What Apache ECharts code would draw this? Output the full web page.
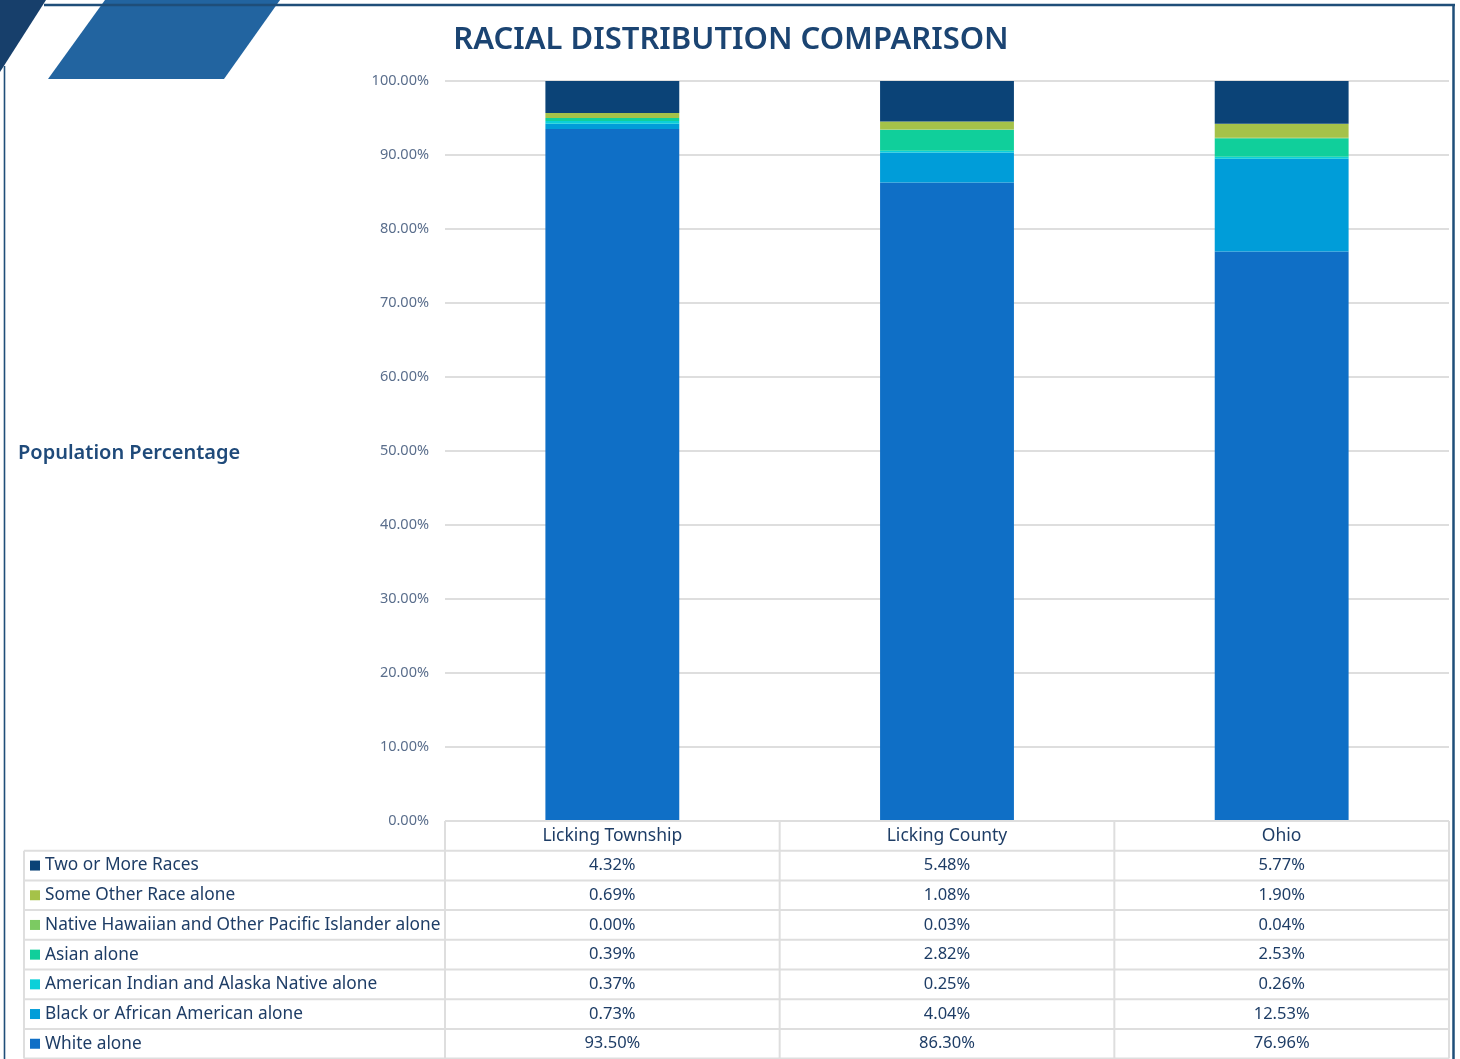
<!DOCTYPE html>
<html><head><meta charset="utf-8">
<script src="https://cdn.jsdelivr.net/npm/echarts@6/dist/echarts.min.js"></script>
<style>html,body{margin:0;padding:0;background:#fff}#c{width:1460px;height:1059px}</style>
</head><body><div id="c"></div>
<script>
const categories = ['Licking Township', 'Licking County', 'Ohio'];
const titleText = 'RACIAL DISTRIBUTION COMPARISON';
const yAxisTitle = 'Population Percentage';
const yTicks = [0, 10, 20, 30, 40, 50, 60, 70, 80, 90, 100];

const whiteAlone = [93.50, 86.30, 76.96];
const blackAlone = [0.73, 4.04, 12.53];
const americanIndianAlone = [0.37, 0.25, 0.26];
const asianAlone = [0.39, 2.82, 2.53];
const nativeHawaiianAlone = [0.00, 0.03, 0.04];
const someOtherRaceAlone = [0.69, 1.08, 1.90];
const twoOrMoreRaces = [4.32, 5.48, 5.77];

// stack order: bottom -> top
const seriesDefs = [
  { name: 'White alone', data: whiteAlone, color: '#0F6FC6' },
  { name: 'Black or African American alone', data: blackAlone, color: '#009DD9' },
  { name: 'American Indian and Alaska Native alone', data: americanIndianAlone, color: '#0BD0D9' },
  { name: 'Asian alone', data: asianAlone, color: '#10CF9B' },
  { name: 'Native Hawaiian and Other Pacific Islander alone', data: nativeHawaiianAlone, color: '#7CCA62' },
  { name: 'Some Other Race alone', data: someOtherRaceAlone, color: '#A5C249' },
  { name: 'Two or More Races', data: twoOrMoreRaces, color: '#0B4377' }
];

const FONT = '"Noto Sans", "Open Sans", sans-serif';
const TEXT = '#1E3D66';
const GRIDC = '#DEDEDE';

const chart = echarts.init(document.getElementById('c'), null, { renderer: 'canvas' });

chart.setOption({
  animation: false,
  backgroundColor: '#fff',
  grid: { left: 445, right: 11, top: 81, bottom: 238, containLabel: false },
  xAxis: {
    type: 'category', data: categories,
    axisLine: { show: false }, axisTick: { show: false }, axisLabel: { show: false },
    splitLine: { show: false }
  },
  yAxis: {
    type: 'value', min: yTicks[0], max: yTicks[yTicks.length - 1], interval: yTicks[1] - yTicks[0],
    axisLine: { show: false }, axisTick: { show: false },
    axisLabel: { formatter: v => v.toFixed(2) + '%', color: '#5A6E8C', fontSize: 14.5, fontFamily: FONT, margin: 16 },
    splitLine: { lineStyle: { color: GRIDC, width: 2 } }
  },
  series: seriesDefs.map(s => ({
    name: s.name, type: 'bar', stack: 'total', data: s.data, barWidth: '40%',
    itemStyle: { color: s.color }
  }))
});

// Build title, decorations and data table
const centers = categories.map(c => chart.convertToPixel({ xAxisIndex: 0 }, c));
const band = centers[1] - centers[0];
const gridLeft = centers[0] - band / 2;
const gridRight = centers[centers.length - 1] + band / 2;
const tableTop = chart.convertToPixel({ yAxisIndex: 0 }, 0);
const rowH = 29.7;
const tableRows = seriesDefs.slice().reverse();
const nRows = tableRows.length;
const tableBottom = tableTop + rowH * (nRows + 1);
const legLeft = 24;

const g = [];
// decorations
g.push({ type: 'polygon', shape: { points: [[0, 0], [46, 0], [0, 72]] }, style: { fill: '#173F6B' } });
g.push({ type: 'polygon', shape: { points: [[105, 0], [280, 0], [224, 79], [48, 79]] }, style: { fill: '#2264A0' } });
g.push({ type: 'line', shape: { x1: 44, y1: 5, x2: 1455, y2: 5 }, style: { stroke: '#1F4E79', lineWidth: 2.5 } });
g.push({ type: 'line', shape: { x1: 1453.5, y1: 4, x2: 1453.5, y2: 1059 }, style: { stroke: '#1F4E79', lineWidth: 2.5 } });
g.push({ type: 'line', shape: { x1: 4.5, y1: 66, x2: 4.5, y2: 1059 }, style: { stroke: '#1F4E79', lineWidth: 1.6 } });
// titles
g.push({ type: 'text', x: 731, y: 40, style: { text: titleText, font: '600 31px ' + FONT, fill: '#1B4472', textAlign: 'center', textVerticalAlign: 'middle' } });
g.push({ type: 'text', x: 18, y: 453, style: { text: yAxisTitle, font: '600 20px ' + FONT, fill: '#1F4A7A', textAlign: 'left', textVerticalAlign: 'middle' } });

// table lines
const L = (x1, y1, x2, y2) => g.push({ type: 'line', z: 10, shape: { x1, y1, x2, y2 }, style: { stroke: GRIDC, lineWidth: 2 } });
L(gridLeft, tableTop, gridRight, tableTop);
for (let r = 1; r <= nRows + 1; r++) L(legLeft, tableTop + r * rowH, gridRight, tableTop + r * rowH);
L(legLeft, tableTop + rowH, legLeft, tableBottom);
for (let i = 0; i <= categories.length; i++) L(gridLeft + i * band, tableTop, gridLeft + i * band, tableBottom);

// header
categories.forEach((c, i) => g.push({ type: 'text', z: 11, x: centers[i], y: tableTop + rowH / 2, style: { text: c, font: '17.5px ' + FONT, fill: TEXT, textAlign: 'center', textVerticalAlign: 'middle' } }));
// rows
tableRows.forEach((s, r) => {
  const cy = tableTop + (r + 1.5) * rowH;
  g.push({ type: 'rect', z: 11, shape: { x: 30, y: cy - 5, width: 10, height: 10 }, style: { fill: s.color } });
  g.push({ type: 'text', z: 11, x: 45, y: cy, style: { text: s.name, font: '17.3px ' + FONT, fill: TEXT, textAlign: 'left', textVerticalAlign: 'middle' } });
  s.data.forEach((v, i) => g.push({ type: 'text', z: 11, x: centers[i], y: cy, style: { text: v.toFixed(2) + '%', font: '16.5px ' + FONT, fill: TEXT, textAlign: 'center', textVerticalAlign: 'middle' } }));
});

chart.setOption({ graphic: g });
</script></body></html>
